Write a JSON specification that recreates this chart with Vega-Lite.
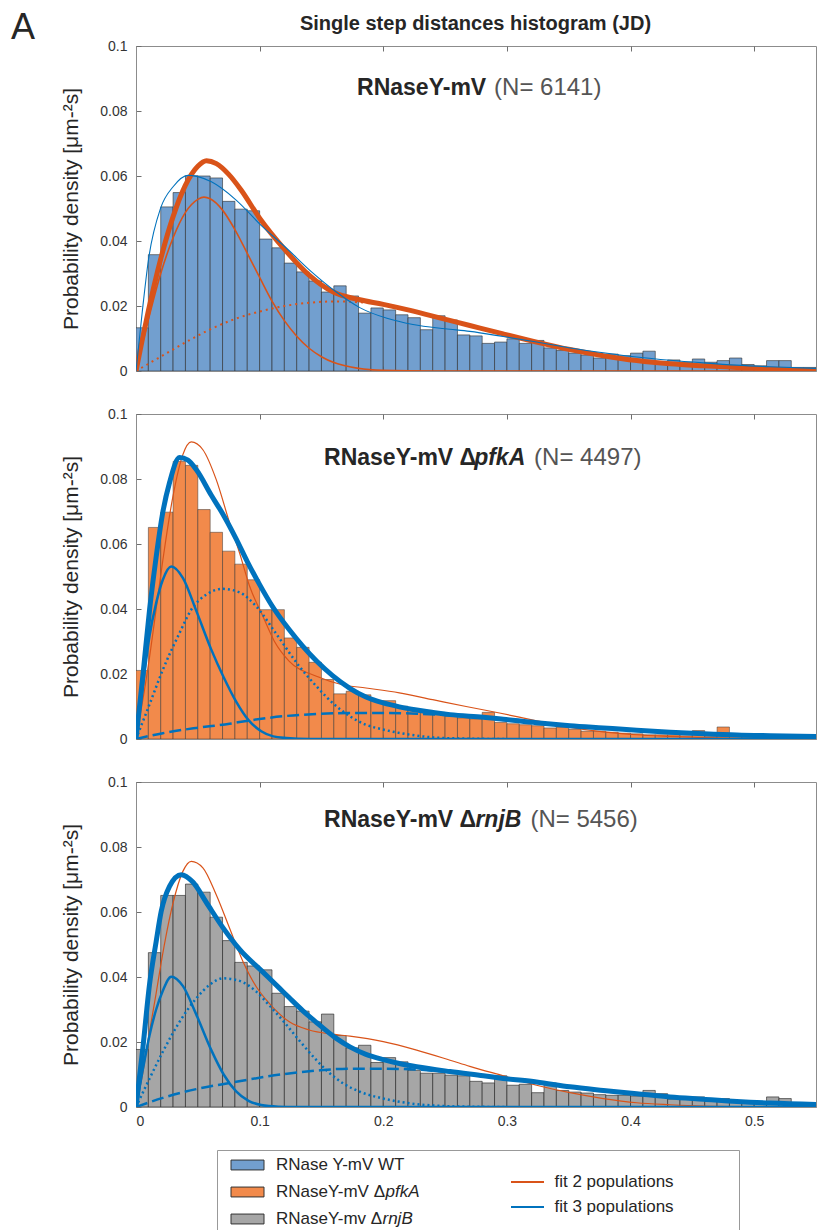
{
"$schema": "https://vega.github.io/schema/vega-lite/v6.json",
"background": "white",
"padding": {"left": 10, "top": 9, "right": 0, "bottom": 0},
"bounds": "flush",
"spacing": 43,
"title": {"text": "Single step distances histogram (JD)", "fontSize": 20, "fontWeight": "bold", "color": "#262626", "anchor": "middle", "offset": -24, "dx": 62},
"config": {
 "font": "Liberation Sans",
 "view": {"stroke": "#8c8c8c", "strokeWidth": 1},
 "axis": {"grid": false, "domainColor": "#8c8c8c", "tickColor": "#6e6e6e", "labelColor": "#333333", "labelFontSize": 14, "tickSize": -5, "titleFontWeight": "normal", "titleColor": "#262626"}
},
"datasets": {
 "bars": [
{"panel":"WT","from":0,"to":0.01,"density":0.0133},{"panel":"WT","from":0.01,"to":0.02,"density":0.0358},{"panel":"WT","from":0.02,"to":0.03,"density":0.0505},{"panel":"WT","from":0.03,"to":0.04,"density":0.0549},{"panel":"WT","from":0.04,"to":0.05,"density":0.0601},{"panel":"WT","from":0.05,"to":0.06,"density":0.0600},{"panel":"WT","from":0.06,"to":0.07,"density":0.0594},{"panel":"WT","from":0.07,"to":0.08,"density":0.0522},{"panel":"WT","from":0.08,"to":0.09,"density":0.0498},{"panel":"WT","from":0.09,"to":0.10,"density":0.0493},
{"panel":"WT","from":0.10,"to":0.11,"density":0.0406},{"panel":"WT","from":0.11,"to":0.12,"density":0.0379},{"panel":"WT","from":0.12,"to":0.13,"density":0.0332},{"panel":"WT","from":0.13,"to":0.14,"density":0.0305},{"panel":"WT","from":0.14,"to":0.15,"density":0.0277},{"panel":"WT","from":0.15,"to":0.16,"density":0.0243},{"panel":"WT","from":0.16,"to":0.17,"density":0.0262},{"panel":"WT","from":0.17,"to":0.18,"density":0.0231},{"panel":"WT","from":0.18,"to":0.19,"density":0.0178},{"panel":"WT","from":0.19,"to":0.20,"density":0.0194},
{"panel":"WT","from":0.20,"to":0.21,"density":0.0188},{"panel":"WT","from":0.21,"to":0.22,"density":0.0173},{"panel":"WT","from":0.22,"to":0.23,"density":0.0164},{"panel":"WT","from":0.23,"to":0.24,"density":0.0127},{"panel":"WT","from":0.24,"to":0.25,"density":0.0170},{"panel":"WT","from":0.25,"to":0.26,"density":0.0157},{"panel":"WT","from":0.26,"to":0.27,"density":0.0111},{"panel":"WT","from":0.27,"to":0.28,"density":0.0108},{"panel":"WT","from":0.28,"to":0.29,"density":0.0085},{"panel":"WT","from":0.29,"to":0.30,"density":0.0089},
{"panel":"WT","from":0.30,"to":0.31,"density":0.0099},{"panel":"WT","from":0.31,"to":0.32,"density":0.0085},{"panel":"WT","from":0.32,"to":0.33,"density":0.0094},{"panel":"WT","from":0.33,"to":0.34,"density":0.0071},{"panel":"WT","from":0.34,"to":0.35,"density":0.0063},{"panel":"WT","from":0.35,"to":0.36,"density":0.0055},{"panel":"WT","from":0.36,"to":0.37,"density":0.0049},{"panel":"WT","from":0.37,"to":0.38,"density":0.0040},{"panel":"WT","from":0.38,"to":0.39,"density":0.0052},{"panel":"WT","from":0.39,"to":0.40,"density":0.0047},
{"panel":"WT","from":0.40,"to":0.41,"density":0.0055},{"panel":"WT","from":0.41,"to":0.42,"density":0.0061},{"panel":"WT","from":0.42,"to":0.43,"density":0.0020},{"panel":"WT","from":0.43,"to":0.44,"density":0.0034},{"panel":"WT","from":0.44,"to":0.45,"density":0.0027},{"panel":"WT","from":0.45,"to":0.46,"density":0.0037},{"panel":"WT","from":0.46,"to":0.47,"density":0.0027},{"panel":"WT","from":0.47,"to":0.48,"density":0.0032},{"panel":"WT","from":0.48,"to":0.49,"density":0.0040},{"panel":"WT","from":0.49,"to":0.50,"density":0.0020},
{"panel":"WT","from":0.50,"to":0.51,"density":0.0016},{"panel":"WT","from":0.51,"to":0.52,"density":0.0032},{"panel":"WT","from":0.52,"to":0.53,"density":0.0032},{"panel":"WT","from":0.53,"to":0.54,"density":0.0011},{"panel":"WT","from":0.54,"to":0.55,"density":0.0011},
{"panel":"pfkA","from":0,"to":0.01,"density":0.0211},{"panel":"pfkA","from":0.01,"to":0.02,"density":0.0651},{"panel":"pfkA","from":0.02,"to":0.03,"density":0.0698},{"panel":"pfkA","from":0.03,"to":0.04,"density":0.0854},{"panel":"pfkA","from":0.04,"to":0.05,"density":0.0842},{"panel":"pfkA","from":0.05,"to":0.06,"density":0.0706},{"panel":"pfkA","from":0.06,"to":0.07,"density":0.0636},{"panel":"pfkA","from":0.07,"to":0.08,"density":0.0578},{"panel":"pfkA","from":0.08,"to":0.09,"density":0.0538},{"panel":"pfkA","from":0.09,"to":0.10,"density":0.0490},
{"panel":"pfkA","from":0.10,"to":0.11,"density":0.0398},{"panel":"pfkA","from":0.11,"to":0.12,"density":0.0398},{"panel":"pfkA","from":0.12,"to":0.13,"density":0.0311},{"panel":"pfkA","from":0.13,"to":0.14,"density":0.0282},{"panel":"pfkA","from":0.14,"to":0.15,"density":0.0236},{"panel":"pfkA","from":0.15,"to":0.16,"density":0.0183},{"panel":"pfkA","from":0.16,"to":0.17,"density":0.0139},{"panel":"pfkA","from":0.17,"to":0.18,"density":0.0147},{"panel":"pfkA","from":0.18,"to":0.19,"density":0.0136},{"panel":"pfkA","from":0.19,"to":0.20,"density":0.0118},
{"panel":"pfkA","from":0.20,"to":0.21,"density":0.0118},{"panel":"pfkA","from":0.21,"to":0.22,"density":0.0101},{"panel":"pfkA","from":0.22,"to":0.23,"density":0.0092},{"panel":"pfkA","from":0.23,"to":0.24,"density":0.0088},{"panel":"pfkA","from":0.24,"to":0.25,"density":0.0082},{"panel":"pfkA","from":0.25,"to":0.26,"density":0.0070},{"panel":"pfkA","from":0.26,"to":0.27,"density":0.0065},{"panel":"pfkA","from":0.27,"to":0.28,"density":0.0062},{"panel":"pfkA","from":0.28,"to":0.29,"density":0.0082},{"panel":"pfkA","from":0.29,"to":0.30,"density":0.0051},
{"panel":"pfkA","from":0.30,"to":0.31,"density":0.0047},{"panel":"pfkA","from":0.31,"to":0.32,"density":0.0044},{"panel":"pfkA","from":0.32,"to":0.33,"density":0.0041},{"panel":"pfkA","from":0.33,"to":0.34,"density":0.0034},{"panel":"pfkA","from":0.34,"to":0.35,"density":0.0037},{"panel":"pfkA","from":0.35,"to":0.36,"density":0.0030},{"panel":"pfkA","from":0.36,"to":0.37,"density":0.0024},{"panel":"pfkA","from":0.37,"to":0.38,"density":0.0024},{"panel":"pfkA","from":0.38,"to":0.39,"density":0.0021},{"panel":"pfkA","from":0.39,"to":0.40,"density":0.0018},
{"panel":"pfkA","from":0.40,"to":0.41,"density":0.0016},{"panel":"pfkA","from":0.41,"to":0.42,"density":0.0013},{"panel":"pfkA","from":0.42,"to":0.43,"density":0.0013},{"panel":"pfkA","from":0.43,"to":0.44,"density":0.0013},{"panel":"pfkA","from":0.44,"to":0.45,"density":0.0010},{"panel":"pfkA","from":0.45,"to":0.46,"density":0.0026},{"panel":"pfkA","from":0.46,"to":0.47,"density":0.0010},{"panel":"pfkA","from":0.47,"to":0.48,"density":0.0037},{"panel":"pfkA","from":0.48,"to":0.49,"density":0.0008},{"panel":"pfkA","from":0.49,"to":0.50,"density":0.0008},
{"panel":"pfkA","from":0.50,"to":0.51,"density":0.0006},{"panel":"pfkA","from":0.51,"to":0.52,"density":0.0005},{"panel":"pfkA","from":0.52,"to":0.53,"density":0.0005},{"panel":"pfkA","from":0.53,"to":0.54,"density":0.0004},{"panel":"pfkA","from":0.54,"to":0.55,"density":0.0004},
{"panel":"rnjB","from":0,"to":0.01,"density":0.0177},{"panel":"rnjB","from":0.01,"to":0.02,"density":0.0475},{"panel":"rnjB","from":0.02,"to":0.03,"density":0.0651},{"panel":"rnjB","from":0.03,"to":0.04,"density":0.0651},{"panel":"rnjB","from":0.04,"to":0.05,"density":0.0686},{"panel":"rnjB","from":0.05,"to":0.06,"density":0.0661},{"panel":"rnjB","from":0.06,"to":0.07,"density":0.0584},{"panel":"rnjB","from":0.07,"to":0.08,"density":0.0512},{"panel":"rnjB","from":0.08,"to":0.09,"density":0.0445},{"panel":"rnjB","from":0.09,"to":0.10,"density":0.0434},
{"panel":"rnjB","from":0.10,"to":0.11,"density":0.0422},{"panel":"rnjB","from":0.11,"to":0.12,"density":0.0350},{"panel":"rnjB","from":0.12,"to":0.13,"density":0.0309},{"panel":"rnjB","from":0.13,"to":0.14,"density":0.0295},{"panel":"rnjB","from":0.14,"to":0.15,"density":0.0262},{"panel":"rnjB","from":0.15,"to":0.16,"density":0.0286},{"panel":"rnjB","from":0.16,"to":0.17,"density":0.0220},{"panel":"rnjB","from":0.17,"to":0.18,"density":0.0182},{"panel":"rnjB","from":0.18,"to":0.19,"density":0.0190},{"panel":"rnjB","from":0.19,"to":0.20,"density":0.0137},
{"panel":"rnjB","from":0.20,"to":0.21,"density":0.0152},{"panel":"rnjB","from":0.21,"to":0.22,"density":0.0139},{"panel":"rnjB","from":0.22,"to":0.23,"density":0.0113},{"panel":"rnjB","from":0.23,"to":0.24,"density":0.0104},{"panel":"rnjB","from":0.24,"to":0.25,"density":0.0104},{"panel":"rnjB","from":0.25,"to":0.26,"density":0.0098},{"panel":"rnjB","from":0.26,"to":0.27,"density":0.0096},{"panel":"rnjB","from":0.27,"to":0.28,"density":0.0079},{"panel":"rnjB","from":0.28,"to":0.29,"density":0.0074},{"panel":"rnjB","from":0.29,"to":0.30,"density":0.0096},
{"panel":"rnjB","from":0.30,"to":0.31,"density":0.0067},{"panel":"rnjB","from":0.31,"to":0.32,"density":0.0070},{"panel":"rnjB","from":0.32,"to":0.33,"density":0.0044},{"panel":"rnjB","from":0.33,"to":0.34,"density":0.0074},{"panel":"rnjB","from":0.34,"to":0.35,"density":0.0051},{"panel":"rnjB","from":0.35,"to":0.36,"density":0.0046},{"panel":"rnjB","from":0.36,"to":0.37,"density":0.0043},{"panel":"rnjB","from":0.37,"to":0.38,"density":0.0038},{"panel":"rnjB","from":0.38,"to":0.39,"density":0.0036},{"panel":"rnjB","from":0.39,"to":0.40,"density":0.0036},
{"panel":"rnjB","from":0.40,"to":0.41,"density":0.0034},{"panel":"rnjB","from":0.41,"to":0.42,"density":0.0051},{"panel":"rnjB","from":0.42,"to":0.43,"density":0.0041},{"panel":"rnjB","from":0.43,"to":0.44,"density":0.0024},{"panel":"rnjB","from":0.44,"to":0.45,"density":0.0031},{"panel":"rnjB","from":0.45,"to":0.46,"density":0.0031},{"panel":"rnjB","from":0.46,"to":0.47,"density":0.0021},{"panel":"rnjB","from":0.47,"to":0.48,"density":0.0026},{"panel":"rnjB","from":0.48,"to":0.49,"density":0.0017},{"panel":"rnjB","from":0.49,"to":0.50,"density":0.0015},
{"panel":"rnjB","from":0.50,"to":0.51,"density":0.0015},{"panel":"rnjB","from":0.51,"to":0.52,"density":0.0031},{"panel":"rnjB","from":0.52,"to":0.53,"density":0.0026},{"panel":"rnjB","from":0.53,"to":0.54,"density":0.0010},{"panel":"rnjB","from":0.54,"to":0.55,"density":0.0010}
 ],
 "curves": [
{"panel":"WT","curve":"fit2 total","x":0,"y":0},{"panel":"WT","curve":"fit2 total","x":0.005,"y":0.0095},{"panel":"WT","curve":"fit2 total","x":0.01,"y":0.0185},{"panel":"WT","curve":"fit2 total","x":0.02,"y":0.0345},{"panel":"WT","curve":"fit2 total","x":0.03,"y":0.0475},{"panel":"WT","curve":"fit2 total","x":0.04,"y":0.0572},{"panel":"WT","curve":"fit2 total","x":0.05,"y":0.0630},{"panel":"WT","curve":"fit2 total","x":0.057,"y":0.0647},{"panel":"WT","curve":"fit2 total","x":0.065,"y":0.0638},{"panel":"WT","curve":"fit2 total","x":0.075,"y":0.0605},{"panel":"WT","curve":"fit2 total","x":0.085,"y":0.0557},{"panel":"WT","curve":"fit2 total","x":0.10,"y":0.0470},{"panel":"WT","curve":"fit2 total","x":0.12,"y":0.0375},{"panel":"WT","curve":"fit2 total","x":0.14,"y":0.0295},{"panel":"WT","curve":"fit2 total","x":0.16,"y":0.0242},{"panel":"WT","curve":"fit2 total","x":0.18,"y":0.0220},{"panel":"WT","curve":"fit2 total","x":0.20,"y":0.0205},{"panel":"WT","curve":"fit2 total","x":0.22,"y":0.0188},{"panel":"WT","curve":"fit2 total","x":0.24,"y":0.0169},{"panel":"WT","curve":"fit2 total","x":0.27,"y":0.0140},{"panel":"WT","curve":"fit2 total","x":0.297,"y":0.0114},{"panel":"WT","curve":"fit2 total","x":0.324,"y":0.0089},{"panel":"WT","curve":"fit2 total","x":0.351,"y":0.0066},{"panel":"WT","curve":"fit2 total","x":0.378,"y":0.0047},{"panel":"WT","curve":"fit2 total","x":0.405,"y":0.0032},{"panel":"WT","curve":"fit2 total","x":0.432,"y":0.0022},{"panel":"WT","curve":"fit2 total","x":0.459,"y":0.0016},{"panel":"WT","curve":"fit2 total","x":0.486,"y":0.0011},{"panel":"WT","curve":"fit2 total","x":0.52,"y":0.0005},{"panel":"WT","curve":"fit2 total","x":0.55,"y":0.0002},
{"panel":"WT","curve":"fit2 pop1","x":0,"y":0},{"panel":"WT","curve":"fit2 pop1","x":0.01,"y":0.0158},{"panel":"WT","curve":"fit2 pop1","x":0.02,"y":0.0300},{"panel":"WT","curve":"fit2 pop1","x":0.03,"y":0.0410},{"panel":"WT","curve":"fit2 pop1","x":0.04,"y":0.0488},{"panel":"WT","curve":"fit2 pop1","x":0.05,"y":0.0528},{"panel":"WT","curve":"fit2 pop1","x":0.055,"y":0.0535},{"panel":"WT","curve":"fit2 pop1","x":0.06,"y":0.0530},{"panel":"WT","curve":"fit2 pop1","x":0.07,"y":0.0495},{"panel":"WT","curve":"fit2 pop1","x":0.08,"y":0.0435},{"panel":"WT","curve":"fit2 pop1","x":0.09,"y":0.0362},{"panel":"WT","curve":"fit2 pop1","x":0.10,"y":0.0288},{"panel":"WT","curve":"fit2 pop1","x":0.11,"y":0.0215},{"panel":"WT","curve":"fit2 pop1","x":0.12,"y":0.0155},{"panel":"WT","curve":"fit2 pop1","x":0.13,"y":0.0107},{"panel":"WT","curve":"fit2 pop1","x":0.14,"y":0.0070},{"panel":"WT","curve":"fit2 pop1","x":0.15,"y":0.0044},{"panel":"WT","curve":"fit2 pop1","x":0.16,"y":0.0026},{"panel":"WT","curve":"fit2 pop1","x":0.18,"y":0.0008},{"panel":"WT","curve":"fit2 pop1","x":0.20,"y":0.0002},{"panel":"WT","curve":"fit2 pop1","x":0.24,"y":0},{"panel":"WT","curve":"fit2 pop1","x":0.55,"y":0},
{"panel":"WT","curve":"fit2 pop2","x":0,"y":0},{"panel":"WT","curve":"fit2 pop2","x":0.02,"y":0.0044},{"panel":"WT","curve":"fit2 pop2","x":0.04,"y":0.0088},{"panel":"WT","curve":"fit2 pop2","x":0.06,"y":0.0128},{"panel":"WT","curve":"fit2 pop2","x":0.08,"y":0.0160},{"panel":"WT","curve":"fit2 pop2","x":0.10,"y":0.0183},{"panel":"WT","curve":"fit2 pop2","x":0.12,"y":0.0200},{"panel":"WT","curve":"fit2 pop2","x":0.14,"y":0.0210},{"panel":"WT","curve":"fit2 pop2","x":0.16,"y":0.0214},{"panel":"WT","curve":"fit2 pop2","x":0.18,"y":0.0212},{"panel":"WT","curve":"fit2 pop2","x":0.20,"y":0.0203},{"panel":"WT","curve":"fit2 pop2","x":0.22,"y":0.0187},{"panel":"WT","curve":"fit2 pop2","x":0.24,"y":0.0169},{"panel":"WT","curve":"fit2 pop2","x":0.27,"y":0.0140},{"panel":"WT","curve":"fit2 pop2","x":0.297,"y":0.0114},{"panel":"WT","curve":"fit2 pop2","x":0.324,"y":0.0089},{"panel":"WT","curve":"fit2 pop2","x":0.351,"y":0.0066},{"panel":"WT","curve":"fit2 pop2","x":0.378,"y":0.0047},{"panel":"WT","curve":"fit2 pop2","x":0.405,"y":0.0032},{"panel":"WT","curve":"fit2 pop2","x":0.432,"y":0.0022},{"panel":"WT","curve":"fit2 pop2","x":0.459,"y":0.0016},{"panel":"WT","curve":"fit2 pop2","x":0.486,"y":0.0011},{"panel":"WT","curve":"fit2 pop2","x":0.52,"y":0.0005},{"panel":"WT","curve":"fit2 pop2","x":0.55,"y":0.0002},
{"panel":"WT","curve":"fit3 total","x":0,"y":0},{"panel":"WT","curve":"fit3 total","x":0.005,"y":0.0180},{"panel":"WT","curve":"fit3 total","x":0.01,"y":0.0340},{"panel":"WT","curve":"fit3 total","x":0.02,"y":0.0502},{"panel":"WT","curve":"fit3 total","x":0.03,"y":0.0567},{"panel":"WT","curve":"fit3 total","x":0.042,"y":0.0602},{"panel":"WT","curve":"fit3 total","x":0.05,"y":0.0598},{"panel":"WT","curve":"fit3 total","x":0.061,"y":0.0582},{"panel":"WT","curve":"fit3 total","x":0.081,"y":0.0526},{"panel":"WT","curve":"fit3 total","x":0.101,"y":0.0449},{"panel":"WT","curve":"fit3 total","x":0.122,"y":0.0377},{"panel":"WT","curve":"fit3 total","x":0.142,"y":0.0305},{"panel":"WT","curve":"fit3 total","x":0.162,"y":0.0243},{"panel":"WT","curve":"fit3 total","x":0.181,"y":0.0195},{"panel":"WT","curve":"fit3 total","x":0.203,"y":0.0162},{"panel":"WT","curve":"fit3 total","x":0.224,"y":0.0143},{"panel":"WT","curve":"fit3 total","x":0.25,"y":0.0130},{"panel":"WT","curve":"fit3 total","x":0.27,"y":0.0122},{"panel":"WT","curve":"fit3 total","x":0.297,"y":0.0106},{"panel":"WT","curve":"fit3 total","x":0.324,"y":0.0089},{"panel":"WT","curve":"fit3 total","x":0.351,"y":0.0071},{"panel":"WT","curve":"fit3 total","x":0.378,"y":0.0056},{"panel":"WT","curve":"fit3 total","x":0.405,"y":0.0043},{"panel":"WT","curve":"fit3 total","x":0.432,"y":0.0033},{"panel":"WT","curve":"fit3 total","x":0.459,"y":0.0025},{"panel":"WT","curve":"fit3 total","x":0.486,"y":0.0018},{"panel":"WT","curve":"fit3 total","x":0.513,"y":0.0013},{"panel":"WT","curve":"fit3 total","x":0.55,"y":0.0008},
{"panel":"pfkA","curve":"fit3 total","x":0,"y":0},{"panel":"pfkA","curve":"fit3 total","x":0.0055,"y":0.0193},{"panel":"pfkA","curve":"fit3 total","x":0.0109,"y":0.0395},{"panel":"pfkA","curve":"fit3 total","x":0.0163,"y":0.0560},{"panel":"pfkA","curve":"fit3 total","x":0.0217,"y":0.0698},{"panel":"pfkA","curve":"fit3 total","x":0.0272,"y":0.0790},{"panel":"pfkA","curve":"fit3 total","x":0.0352,"y":0.0866},{"panel":"pfkA","curve":"fit3 total","x":0.042,"y":0.0858},{"panel":"pfkA","curve":"fit3 total","x":0.0487,"y":0.0829},{"panel":"pfkA","curve":"fit3 total","x":0.0609,"y":0.0750},{"panel":"pfkA","curve":"fit3 total","x":0.0709,"y":0.0688},{"panel":"pfkA","curve":"fit3 total","x":0.081,"y":0.0616},{"panel":"pfkA","curve":"fit3 total","x":0.09,"y":0.0546},{"panel":"pfkA","curve":"fit3 total","x":0.10,"y":0.0475},{"panel":"pfkA","curve":"fit3 total","x":0.11,"y":0.0410},{"panel":"pfkA","curve":"fit3 total","x":0.124,"y":0.0336},{"panel":"pfkA","curve":"fit3 total","x":0.135,"y":0.0285},{"panel":"pfkA","curve":"fit3 total","x":0.146,"y":0.0240},{"panel":"pfkA","curve":"fit3 total","x":0.159,"y":0.0195},{"panel":"pfkA","curve":"fit3 total","x":0.173,"y":0.0156},{"panel":"pfkA","curve":"fit3 total","x":0.186,"y":0.0129},{"panel":"pfkA","curve":"fit3 total","x":0.20,"y":0.0111},{"panel":"pfkA","curve":"fit3 total","x":0.213,"y":0.0099},{"panel":"pfkA","curve":"fit3 total","x":0.227,"y":0.0089},{"panel":"pfkA","curve":"fit3 total","x":0.254,"y":0.0075},{"panel":"pfkA","curve":"fit3 total","x":0.281,"y":0.0067},{"panel":"pfkA","curve":"fit3 total","x":0.297,"y":0.0061},{"panel":"pfkA","curve":"fit3 total","x":0.324,"y":0.0050},{"panel":"pfkA","curve":"fit3 total","x":0.351,"y":0.0041},{"panel":"pfkA","curve":"fit3 total","x":0.378,"y":0.0034},{"panel":"pfkA","curve":"fit3 total","x":0.405,"y":0.0027},{"panel":"pfkA","curve":"fit3 total","x":0.432,"y":0.0021},{"panel":"pfkA","curve":"fit3 total","x":0.459,"y":0.0016},{"panel":"pfkA","curve":"fit3 total","x":0.486,"y":0.0012},{"panel":"pfkA","curve":"fit3 total","x":0.513,"y":0.0010},{"panel":"pfkA","curve":"fit3 total","x":0.55,"y":0.0008},
{"panel":"pfkA","curve":"fit3 pop1","x":0,"y":0},{"panel":"pfkA","curve":"fit3 pop1","x":0.0055,"y":0.0162},{"panel":"pfkA","curve":"fit3 pop1","x":0.0109,"y":0.0316},{"panel":"pfkA","curve":"fit3 pop1","x":0.0163,"y":0.0418},{"panel":"pfkA","curve":"fit3 pop1","x":0.0217,"y":0.0490},{"panel":"pfkA","curve":"fit3 pop1","x":0.0285,"y":0.0531},{"panel":"pfkA","curve":"fit3 pop1","x":0.038,"y":0.0495},{"panel":"pfkA","curve":"fit3 pop1","x":0.0487,"y":0.0395},{"panel":"pfkA","curve":"fit3 pop1","x":0.0609,"y":0.0275},{"panel":"pfkA","curve":"fit3 pop1","x":0.0709,"y":0.0190},{"panel":"pfkA","curve":"fit3 pop1","x":0.081,"y":0.0115},{"panel":"pfkA","curve":"fit3 pop1","x":0.091,"y":0.0058},{"panel":"pfkA","curve":"fit3 pop1","x":0.1013,"y":0.0024},{"panel":"pfkA","curve":"fit3 pop1","x":0.111,"y":0.0008},{"panel":"pfkA","curve":"fit3 pop1","x":0.1216,"y":0.0003},{"panel":"pfkA","curve":"fit3 pop1","x":0.14,"y":0},{"panel":"pfkA","curve":"fit3 pop1","x":0.55,"y":0},
{"panel":"pfkA","curve":"fit3 pop2","x":0,"y":0},{"panel":"pfkA","curve":"fit3 pop2","x":0.0109,"y":0.0106},{"panel":"pfkA","curve":"fit3 pop2","x":0.0217,"y":0.0213},{"panel":"pfkA","curve":"fit3 pop2","x":0.0352,"y":0.0326},{"panel":"pfkA","curve":"fit3 pop2","x":0.0447,"y":0.0398},{"panel":"pfkA","curve":"fit3 pop2","x":0.0568,"y":0.0444},{"panel":"pfkA","curve":"fit3 pop2","x":0.0703,"y":0.0462},{"panel":"pfkA","curve":"fit3 pop2","x":0.0838,"y":0.0451},{"panel":"pfkA","curve":"fit3 pop2","x":0.0973,"y":0.0408},{"panel":"pfkA","curve":"fit3 pop2","x":0.113,"y":0.0326},{"panel":"pfkA","curve":"fit3 pop2","x":0.132,"y":0.0224},{"panel":"pfkA","curve":"fit3 pop2","x":0.146,"y":0.0162},{"panel":"pfkA","curve":"fit3 pop2","x":0.159,"y":0.0111},{"panel":"pfkA","curve":"fit3 pop2","x":0.173,"y":0.0070},{"panel":"pfkA","curve":"fit3 pop2","x":0.186,"y":0.0044},{"panel":"pfkA","curve":"fit3 pop2","x":0.20,"y":0.0029},{"panel":"pfkA","curve":"fit3 pop2","x":0.222,"y":0.0013},{"panel":"pfkA","curve":"fit3 pop2","x":0.24,"y":0.0005},{"panel":"pfkA","curve":"fit3 pop2","x":0.27,"y":0.0001},{"panel":"pfkA","curve":"fit3 pop2","x":0.30,"y":0},
{"panel":"pfkA","curve":"fit3 pop3","x":0,"y":0},{"panel":"pfkA","curve":"fit3 pop3","x":0.0217,"y":0.0018},{"panel":"pfkA","curve":"fit3 pop3","x":0.0487,"y":0.0034},{"panel":"pfkA","curve":"fit3 pop3","x":0.0757,"y":0.0047},{"panel":"pfkA","curve":"fit3 pop3","x":0.0919,"y":0.0057},{"panel":"pfkA","curve":"fit3 pop3","x":0.119,"y":0.0070},{"panel":"pfkA","curve":"fit3 pop3","x":0.146,"y":0.0077},{"panel":"pfkA","curve":"fit3 pop3","x":0.173,"y":0.0080},{"panel":"pfkA","curve":"fit3 pop3","x":0.20,"y":0.0080},{"panel":"pfkA","curve":"fit3 pop3","x":0.227,"y":0.0078},{"panel":"pfkA","curve":"fit3 pop3","x":0.254,"y":0.0073},{"panel":"pfkA","curve":"fit3 pop3","x":0.281,"y":0.0065},{"panel":"pfkA","curve":"fit3 pop3","x":0.297,"y":0.0060},{"panel":"pfkA","curve":"fit3 pop3","x":0.324,"y":0.0050},{"panel":"pfkA","curve":"fit3 pop3","x":0.351,"y":0.0041},{"panel":"pfkA","curve":"fit3 pop3","x":0.378,"y":0.0034},{"panel":"pfkA","curve":"fit3 pop3","x":0.405,"y":0.0027},{"panel":"pfkA","curve":"fit3 pop3","x":0.432,"y":0.0021},{"panel":"pfkA","curve":"fit3 pop3","x":0.459,"y":0.0016},{"panel":"pfkA","curve":"fit3 pop3","x":0.486,"y":0.0012},{"panel":"pfkA","curve":"fit3 pop3","x":0.513,"y":0.0010},{"panel":"pfkA","curve":"fit3 pop3","x":0.55,"y":0.0008},
{"panel":"pfkA","curve":"fit2 total","x":0,"y":0},{"panel":"pfkA","curve":"fit2 total","x":0.0055,"y":0.0120},{"panel":"pfkA","curve":"fit2 total","x":0.0109,"y":0.0250},{"panel":"pfkA","curve":"fit2 total","x":0.0163,"y":0.0400},{"panel":"pfkA","curve":"fit2 total","x":0.0217,"y":0.0550},{"panel":"pfkA","curve":"fit2 total","x":0.0298,"y":0.0745},{"panel":"pfkA","curve":"fit2 total","x":0.0379,"y":0.0875},{"panel":"pfkA","curve":"fit2 total","x":0.0447,"y":0.0914},{"panel":"pfkA","curve":"fit2 total","x":0.0541,"y":0.0890},{"panel":"pfkA","curve":"fit2 total","x":0.0649,"y":0.0798},{"panel":"pfkA","curve":"fit2 total","x":0.0757,"y":0.0665},{"panel":"pfkA","curve":"fit2 total","x":0.0838,"y":0.0572},{"panel":"pfkA","curve":"fit2 total","x":0.0919,"y":0.0470},{"panel":"pfkA","curve":"fit2 total","x":0.1027,"y":0.0377},{"panel":"pfkA","curve":"fit2 total","x":0.112,"y":0.0300},{"panel":"pfkA","curve":"fit2 total","x":0.124,"y":0.0239},{"panel":"pfkA","curve":"fit2 total","x":0.146,"y":0.0193},{"panel":"pfkA","curve":"fit2 total","x":0.167,"y":0.0167},{"panel":"pfkA","curve":"fit2 total","x":0.186,"y":0.0157},{"panel":"pfkA","curve":"fit2 total","x":0.213,"y":0.0142},{"panel":"pfkA","curve":"fit2 total","x":0.24,"y":0.0121},{"panel":"pfkA","curve":"fit2 total","x":0.267,"y":0.0100},{"panel":"pfkA","curve":"fit2 total","x":0.294,"y":0.0080},{"panel":"pfkA","curve":"fit2 total","x":0.324,"y":0.0056},{"panel":"pfkA","curve":"fit2 total","x":0.351,"y":0.0036},{"panel":"pfkA","curve":"fit2 total","x":0.378,"y":0.0022},{"panel":"pfkA","curve":"fit2 total","x":0.405,"y":0.0013},{"panel":"pfkA","curve":"fit2 total","x":0.432,"y":0.0008},{"panel":"pfkA","curve":"fit2 total","x":0.46,"y":0.0004},{"panel":"pfkA","curve":"fit2 total","x":0.50,"y":0.0001},{"panel":"pfkA","curve":"fit2 total","x":0.55,"y":0},
{"panel":"rnjB","curve":"fit3 total","x":0,"y":0},{"panel":"rnjB","curve":"fit3 total","x":0.0055,"y":0.0180},{"panel":"rnjB","curve":"fit3 total","x":0.0109,"y":0.0376},{"panel":"rnjB","curve":"fit3 total","x":0.0163,"y":0.0509},{"panel":"rnjB","curve":"fit3 total","x":0.0204,"y":0.0602},{"panel":"rnjB","curve":"fit3 total","x":0.0271,"y":0.0679},{"panel":"rnjB","curve":"fit3 total","x":0.0366,"y":0.0715},{"panel":"rnjB","curve":"fit3 total","x":0.046,"y":0.0692},{"panel":"rnjB","curve":"fit3 total","x":0.0568,"y":0.0630},{"panel":"rnjB","curve":"fit3 total","x":0.0703,"y":0.0552},{"panel":"rnjB","curve":"fit3 total","x":0.0838,"y":0.0485},{"panel":"rnjB","curve":"fit3 total","x":0.1027,"y":0.0415},{"panel":"rnjB","curve":"fit3 total","x":0.1162,"y":0.0365},{"panel":"rnjB","curve":"fit3 total","x":0.124,"y":0.0336},{"panel":"rnjB","curve":"fit3 total","x":0.135,"y":0.0296},{"panel":"rnjB","curve":"fit3 total","x":0.146,"y":0.0260},{"panel":"rnjB","curve":"fit3 total","x":0.162,"y":0.0211},{"panel":"rnjB","curve":"fit3 total","x":0.173,"y":0.0185},{"panel":"rnjB","curve":"fit3 total","x":0.186,"y":0.0162},{"panel":"rnjB","curve":"fit3 total","x":0.20,"y":0.0146},{"panel":"rnjB","curve":"fit3 total","x":0.213,"y":0.0134},{"panel":"rnjB","curve":"fit3 total","x":0.227,"y":0.0124},{"panel":"rnjB","curve":"fit3 total","x":0.254,"y":0.0109},{"panel":"rnjB","curve":"fit3 total","x":0.281,"y":0.0096},{"panel":"rnjB","curve":"fit3 total","x":0.297,"y":0.0088},{"panel":"rnjB","curve":"fit3 total","x":0.324,"y":0.0077},{"panel":"rnjB","curve":"fit3 total","x":0.351,"y":0.0062},{"panel":"rnjB","curve":"fit3 total","x":0.378,"y":0.0051},{"panel":"rnjB","curve":"fit3 total","x":0.405,"y":0.0041},{"panel":"rnjB","curve":"fit3 total","x":0.432,"y":0.0031},{"panel":"rnjB","curve":"fit3 total","x":0.459,"y":0.0024},{"panel":"rnjB","curve":"fit3 total","x":0.486,"y":0.0017},{"panel":"rnjB","curve":"fit3 total","x":0.513,"y":0.0012},{"panel":"rnjB","curve":"fit3 total","x":0.55,"y":0.0008},
{"panel":"rnjB","curve":"fit3 pop1","x":0,"y":0},{"panel":"rnjB","curve":"fit3 pop1","x":0.0055,"y":0.0115},{"panel":"rnjB","curve":"fit3 pop1","x":0.0109,"y":0.0220},{"panel":"rnjB","curve":"fit3 pop1","x":0.0163,"y":0.0300},{"panel":"rnjB","curve":"fit3 pop1","x":0.0217,"y":0.0358},{"panel":"rnjB","curve":"fit3 pop1","x":0.0285,"y":0.0401},{"panel":"rnjB","curve":"fit3 pop1","x":0.038,"y":0.0372},{"panel":"rnjB","curve":"fit3 pop1","x":0.0487,"y":0.0285},{"panel":"rnjB","curve":"fit3 pop1","x":0.0609,"y":0.0175},{"panel":"rnjB","curve":"fit3 pop1","x":0.0709,"y":0.0100},{"panel":"rnjB","curve":"fit3 pop1","x":0.081,"y":0.0048},{"panel":"rnjB","curve":"fit3 pop1","x":0.091,"y":0.0019},{"panel":"rnjB","curve":"fit3 pop1","x":0.1013,"y":0.0006},{"panel":"rnjB","curve":"fit3 pop1","x":0.115,"y":0.0001},{"panel":"rnjB","curve":"fit3 pop1","x":0.13,"y":0},{"panel":"rnjB","curve":"fit3 pop1","x":0.55,"y":0},
{"panel":"rnjB","curve":"fit3 pop2","x":0,"y":0},{"panel":"rnjB","curve":"fit3 pop2","x":0.0109,"y":0.0087},{"panel":"rnjB","curve":"fit3 pop2","x":0.0217,"y":0.0170},{"panel":"rnjB","curve":"fit3 pop2","x":0.0352,"y":0.0262},{"panel":"rnjB","curve":"fit3 pop2","x":0.0487,"y":0.0334},{"panel":"rnjB","curve":"fit3 pop2","x":0.0595,"y":0.0376},{"panel":"rnjB","curve":"fit3 pop2","x":0.0703,"y":0.0396},{"panel":"rnjB","curve":"fit3 pop2","x":0.0838,"y":0.0388},{"panel":"rnjB","curve":"fit3 pop2","x":0.0973,"y":0.0355},{"panel":"rnjB","curve":"fit3 pop2","x":0.108,"y":0.0312},{"panel":"rnjB","curve":"fit3 pop2","x":0.119,"y":0.0265},{"panel":"rnjB","curve":"fit3 pop2","x":0.132,"y":0.0205},{"panel":"rnjB","curve":"fit3 pop2","x":0.146,"y":0.0144},{"panel":"rnjB","curve":"fit3 pop2","x":0.154,"y":0.0113},{"panel":"rnjB","curve":"fit3 pop2","x":0.167,"y":0.0074},{"panel":"rnjB","curve":"fit3 pop2","x":0.181,"y":0.0047},{"panel":"rnjB","curve":"fit3 pop2","x":0.20,"y":0.0026},{"panel":"rnjB","curve":"fit3 pop2","x":0.222,"y":0.0011},{"panel":"rnjB","curve":"fit3 pop2","x":0.243,"y":0.0004},{"panel":"rnjB","curve":"fit3 pop2","x":0.27,"y":0.0001},{"panel":"rnjB","curve":"fit3 pop2","x":0.30,"y":0},
{"panel":"rnjB","curve":"fit3 pop3","x":0,"y":0},{"panel":"rnjB","curve":"fit3 pop3","x":0.0217,"y":0.0028},{"panel":"rnjB","curve":"fit3 pop3","x":0.0487,"y":0.0055},{"panel":"rnjB","curve":"fit3 pop3","x":0.0757,"y":0.0074},{"panel":"rnjB","curve":"fit3 pop3","x":0.0919,"y":0.0085},{"panel":"rnjB","curve":"fit3 pop3","x":0.119,"y":0.0101},{"panel":"rnjB","curve":"fit3 pop3","x":0.146,"y":0.0112},{"panel":"rnjB","curve":"fit3 pop3","x":0.173,"y":0.0118},{"panel":"rnjB","curve":"fit3 pop3","x":0.20,"y":0.0118},{"panel":"rnjB","curve":"fit3 pop3","x":0.227,"y":0.0115},{"panel":"rnjB","curve":"fit3 pop3","x":0.254,"y":0.0107},{"panel":"rnjB","curve":"fit3 pop3","x":0.281,"y":0.0095},{"panel":"rnjB","curve":"fit3 pop3","x":0.297,"y":0.0088},{"panel":"rnjB","curve":"fit3 pop3","x":0.324,"y":0.0077},{"panel":"rnjB","curve":"fit3 pop3","x":0.351,"y":0.0062},{"panel":"rnjB","curve":"fit3 pop3","x":0.378,"y":0.0051},{"panel":"rnjB","curve":"fit3 pop3","x":0.405,"y":0.0041},{"panel":"rnjB","curve":"fit3 pop3","x":0.432,"y":0.0031},{"panel":"rnjB","curve":"fit3 pop3","x":0.459,"y":0.0024},{"panel":"rnjB","curve":"fit3 pop3","x":0.486,"y":0.0017},{"panel":"rnjB","curve":"fit3 pop3","x":0.513,"y":0.0012},{"panel":"rnjB","curve":"fit3 pop3","x":0.55,"y":0.0008},
{"panel":"rnjB","curve":"fit2 total","x":0,"y":0},{"panel":"rnjB","curve":"fit2 total","x":0.0055,"y":0.0105},{"panel":"rnjB","curve":"fit2 total","x":0.0109,"y":0.0231},{"panel":"rnjB","curve":"fit2 total","x":0.0163,"y":0.0350},{"panel":"rnjB","curve":"fit2 total","x":0.0204,"y":0.0445},{"panel":"rnjB","curve":"fit2 total","x":0.0298,"y":0.0625},{"panel":"rnjB","curve":"fit2 total","x":0.0379,"y":0.0725},{"panel":"rnjB","curve":"fit2 total","x":0.0447,"y":0.0756},{"panel":"rnjB","curve":"fit2 total","x":0.0541,"y":0.0736},{"panel":"rnjB","curve":"fit2 total","x":0.0649,"y":0.0653},{"panel":"rnjB","curve":"fit2 total","x":0.0757,"y":0.0550},{"panel":"rnjB","curve":"fit2 total","x":0.0865,"y":0.0448},{"panel":"rnjB","curve":"fit2 total","x":0.0973,"y":0.0370},{"panel":"rnjB","curve":"fit2 total","x":0.108,"y":0.0318},{"panel":"rnjB","curve":"fit2 total","x":0.124,"y":0.0262},{"panel":"rnjB","curve":"fit2 total","x":0.14,"y":0.0237},{"panel":"rnjB","curve":"fit2 total","x":0.159,"y":0.0224},{"panel":"rnjB","curve":"fit2 total","x":0.173,"y":0.0218},{"panel":"rnjB","curve":"fit2 total","x":0.20,"y":0.0201},{"panel":"rnjB","curve":"fit2 total","x":0.227,"y":0.0175},{"panel":"rnjB","curve":"fit2 total","x":0.254,"y":0.0144},{"panel":"rnjB","curve":"fit2 total","x":0.27,"y":0.0125},{"panel":"rnjB","curve":"fit2 total","x":0.297,"y":0.0096},{"panel":"rnjB","curve":"fit2 total","x":0.324,"y":0.0067},{"panel":"rnjB","curve":"fit2 total","x":0.351,"y":0.0044},{"panel":"rnjB","curve":"fit2 total","x":0.378,"y":0.0026},{"panel":"rnjB","curve":"fit2 total","x":0.405,"y":0.0013},{"panel":"rnjB","curve":"fit2 total","x":0.432,"y":0.0007},{"panel":"rnjB","curve":"fit2 total","x":0.459,"y":0.0003},{"panel":"rnjB","curve":"fit2 total","x":0.50,"y":0.0001},{"panel":"rnjB","curve":"fit2 total","x":0.55,"y":0}
 ],
 "legendSeries": [
  {"series":"WT","label":"RNase Y-mV WT","gene":""},
  {"series":"pfkA","label":"RNaseY-mV Δ","gene":"pfkA"},
  {"series":"rnjB","label":"RNaseY-mv Δ","gene":"rnjB"}
 ],
 "legendFits": [
  {"fit":"fit 2 populations"},
  {"fit":"fit 3 populations"}
 ]
},
"vconcat": [
 {
  "width": 680, "height": 325,
  "layer": [
   {"data": {"name": "bars"}, "transform": [{"filter": "datum.panel === 'WT'"}],
    "mark": {"type": "bar", "fill": "#729fcf", "stroke": "#2e2e2e", "strokeWidth": 0.8, "strokeOpacity": 0.75, "clip": true},
    "encoding": {
     "x": {"field": "from", "type": "quantitative", "scale": {"domain": [0, 0.55], "nice": false, "zero": false}, "axis": {"values": [0,0.1,0.2,0.3,0.4,0.5], "labels": false, "title": null}},
     "x2": {"field": "to"},
     "y": {"field": "density", "type": "quantitative", "scale": {"domain": [0, 0.1], "nice": false}, "axis": {"values": [0,0.02,0.04,0.06,0.08,0.1], "format": "~g", "title": "Probability density [μm-²s]", "titleFontSize": 21, "titlePadding": 18, "labelPadding": 14}},
     "y2": {"datum": 0}
    }},
   {"data": {"name": "curves"}, "transform": [{"filter": "datum.panel === 'WT' && datum.curve === 'fit2 pop1'"}],
    "mark": {"type": "line", "color": "#D95319", "strokeWidth": 1.6, "interpolate": "monotone", "clip": true},
    "encoding": {"x": {"field": "x", "type": "quantitative", "axis": null}, "y": {"field": "y", "type": "quantitative"}}},
   {"data": {"name": "curves"}, "transform": [{"filter": "datum.panel === 'WT' && datum.curve === 'fit2 pop2'"}],
    "mark": {"type": "line", "color": "#D95319", "strokeWidth": 2, "strokeDash": [2, 4], "interpolate": "monotone", "clip": true},
    "encoding": {"x": {"field": "x", "type": "quantitative", "axis": null}, "y": {"field": "y", "type": "quantitative"}}},
   {"data": {"name": "curves"}, "transform": [{"filter": "datum.panel === 'WT' && datum.curve === 'fit2 total'"}],
    "mark": {"type": "line", "color": "#D95319", "strokeWidth": 5, "interpolate": "monotone", "clip": true},
    "encoding": {"x": {"field": "x", "type": "quantitative", "axis": null}, "y": {"field": "y", "type": "quantitative"}}},
   {"data": {"name": "curves"}, "transform": [{"filter": "datum.panel === 'WT' && datum.curve === 'fit3 total'"}],
    "mark": {"type": "line", "color": "#0072BD", "strokeWidth": 1.1, "interpolate": "monotone", "clip": true},
    "encoding": {"x": {"field": "x", "type": "quantitative", "axis": null}, "y": {"field": "y", "type": "quantitative"}}},
   {"data": {"values": [{}]},
    "mark": {"type": "text", "text": "RNaseY-mV", "fontSize": 23, "fontWeight": "bold", "align": "left", "baseline": "alphabetic", "color": "#262626"},
    "encoding": {"x": {"datum": 0.1788, "type": "quantitative", "axis": null}, "y": {"datum": 0.085, "type": "quantitative"}}},
   {"data": {"values": [{}]},
    "mark": {"type": "text", "text": "(N= 6141)", "fontSize": 24, "align": "left", "baseline": "alphabetic", "color": "#555555"},
    "encoding": {"x": {"datum": 0.2896, "type": "quantitative", "axis": {"orient": "top", "values": [0,0.1,0.2,0.3,0.4,0.5], "labels": false, "domain": false, "title": null}}, "y": {"datum": 0.085, "type": "quantitative"}}},
   {"data": {"values": [{}]},
    "mark": {"type": "text", "text": "A", "fontSize": 36, "align": "left", "baseline": "alphabetic", "dx": -125, "dy": -7, "color": "#262626"},
    "encoding": {"x": {"datum": 0, "type": "quantitative", "axis": null}, "y": {"datum": 0.1, "type": "quantitative"}}}
  ],
  "resolve": {"axis": {"x": "independent"}}
 },
 {
  "width": 680, "height": 325,
  "layer": [
   {"data": {"name": "bars"}, "transform": [{"filter": "datum.panel === 'pfkA'"}],
    "mark": {"type": "bar", "fill": "#f28a4b", "stroke": "#2e2e2e", "strokeWidth": 0.8, "strokeOpacity": 0.6, "clip": true},
    "encoding": {
     "x": {"field": "from", "type": "quantitative", "scale": {"domain": [0, 0.55], "nice": false, "zero": false}, "axis": {"values": [0,0.1,0.2,0.3,0.4,0.5], "labels": false, "title": null}},
     "x2": {"field": "to"},
     "y": {"field": "density", "type": "quantitative", "scale": {"domain": [0, 0.1], "nice": false}, "axis": {"values": [0,0.02,0.04,0.06,0.08,0.1], "format": "~g", "title": "Probability density [μm-²s]", "titleFontSize": 21, "titlePadding": 18, "labelPadding": 14}},
     "y2": {"datum": 0}
    }},
   {"data": {"name": "curves"}, "transform": [{"filter": "datum.panel === 'pfkA' && datum.curve === 'fit2 total'"}],
    "mark": {"type": "line", "color": "#D95319", "strokeWidth": 1.2, "interpolate": "monotone", "clip": true},
    "encoding": {"x": {"field": "x", "type": "quantitative", "axis": null}, "y": {"field": "y", "type": "quantitative"}}},
   {"data": {"name": "curves"}, "transform": [{"filter": "datum.panel === 'pfkA' && datum.curve === 'fit3 pop3'"}],
    "mark": {"type": "line", "color": "#0072BD", "strokeWidth": 2.5, "strokeDash": [12, 5], "interpolate": "monotone", "clip": true},
    "encoding": {"x": {"field": "x", "type": "quantitative", "axis": null}, "y": {"field": "y", "type": "quantitative"}}},
   {"data": {"name": "curves"}, "transform": [{"filter": "datum.panel === 'pfkA' && datum.curve === 'fit3 pop2'"}],
    "mark": {"type": "line", "color": "#0072BD", "strokeWidth": 2.5, "strokeDash": [2, 3], "interpolate": "monotone", "clip": true},
    "encoding": {"x": {"field": "x", "type": "quantitative", "axis": null}, "y": {"field": "y", "type": "quantitative"}}},
   {"data": {"name": "curves"}, "transform": [{"filter": "datum.panel === 'pfkA' && datum.curve === 'fit3 pop1'"}],
    "mark": {"type": "line", "color": "#0072BD", "strokeWidth": 2.5, "interpolate": "monotone", "clip": true},
    "encoding": {"x": {"field": "x", "type": "quantitative", "axis": null}, "y": {"field": "y", "type": "quantitative"}}},
   {"data": {"name": "curves"}, "transform": [{"filter": "datum.panel === 'pfkA' && datum.curve === 'fit3 total'"}],
    "mark": {"type": "line", "color": "#0072BD", "strokeWidth": 5, "interpolate": "monotone", "clip": true},
    "encoding": {"x": {"field": "x", "type": "quantitative", "axis": null}, "y": {"field": "y", "type": "quantitative"}}},
   {"data": {"values": [{}]},
    "mark": {"type": "text", "text": "RNaseY-mV Δ", "fontSize": 23, "fontWeight": "bold", "align": "left", "baseline": "alphabetic", "color": "#262626"},
    "encoding": {"x": {"datum": 0.1521, "type": "quantitative", "axis": null}, "y": {"datum": 0.0843, "type": "quantitative"}}},
   {"data": {"values": [{}]},
    "mark": {"type": "text", "text": "pfkA", "fontSize": 23, "fontWeight": "bold", "fontStyle": "italic", "align": "left", "baseline": "alphabetic", "color": "#262626"},
    "encoding": {"x": {"datum": 0.2735, "type": "quantitative", "axis": null}, "y": {"datum": 0.0843, "type": "quantitative"}}},
   {"data": {"values": [{}]},
    "mark": {"type": "text", "text": "(N= 4497)", "fontSize": 24, "align": "left", "baseline": "alphabetic", "color": "#555555"},
    "encoding": {"x": {"datum": 0.322, "type": "quantitative", "axis": {"orient": "top", "values": [0,0.1,0.2,0.3,0.4,0.5], "labels": false, "domain": false, "title": null}}, "y": {"datum": 0.0843, "type": "quantitative"}}}
  ],
  "resolve": {"axis": {"x": "independent"}}
 },
 {
  "width": 680, "height": 325,
  "layer": [
   {"data": {"name": "bars"}, "transform": [{"filter": "datum.panel === 'rnjB'"}],
    "mark": {"type": "bar", "fill": "#a6a6a6", "stroke": "#1e1e1e", "strokeWidth": 0.8, "strokeOpacity": 0.75, "clip": true},
    "encoding": {
     "x": {"field": "from", "type": "quantitative", "scale": {"domain": [0, 0.55], "nice": false, "zero": false}, "axis": {"values": [0,0.1,0.2,0.3,0.4,0.5], "format": "~g", "title": null, "labelPadding": 12}},
     "x2": {"field": "to"},
     "y": {"field": "density", "type": "quantitative", "scale": {"domain": [0, 0.1], "nice": false}, "axis": {"values": [0,0.02,0.04,0.06,0.08,0.1], "format": "~g", "title": "Probability density [μm-²s]", "titleFontSize": 21, "titlePadding": 18, "labelPadding": 14}},
     "y2": {"datum": 0}
    }},
   {"data": {"name": "curves"}, "transform": [{"filter": "datum.panel === 'rnjB' && datum.curve === 'fit2 total'"}],
    "mark": {"type": "line", "color": "#D95319", "strokeWidth": 1.2, "interpolate": "monotone", "clip": true},
    "encoding": {"x": {"field": "x", "type": "quantitative", "axis": null}, "y": {"field": "y", "type": "quantitative"}}},
   {"data": {"name": "curves"}, "transform": [{"filter": "datum.panel === 'rnjB' && datum.curve === 'fit3 pop3'"}],
    "mark": {"type": "line", "color": "#0072BD", "strokeWidth": 2.5, "strokeDash": [12, 5], "interpolate": "monotone", "clip": true},
    "encoding": {"x": {"field": "x", "type": "quantitative", "axis": null}, "y": {"field": "y", "type": "quantitative"}}},
   {"data": {"name": "curves"}, "transform": [{"filter": "datum.panel === 'rnjB' && datum.curve === 'fit3 pop2'"}],
    "mark": {"type": "line", "color": "#0072BD", "strokeWidth": 2.5, "strokeDash": [2, 3], "interpolate": "monotone", "clip": true},
    "encoding": {"x": {"field": "x", "type": "quantitative", "axis": null}, "y": {"field": "y", "type": "quantitative"}}},
   {"data": {"name": "curves"}, "transform": [{"filter": "datum.panel === 'rnjB' && datum.curve === 'fit3 pop1'"}],
    "mark": {"type": "line", "color": "#0072BD", "strokeWidth": 2.5, "interpolate": "monotone", "clip": true},
    "encoding": {"x": {"field": "x", "type": "quantitative", "axis": null}, "y": {"field": "y", "type": "quantitative"}}},
   {"data": {"name": "curves"}, "transform": [{"filter": "datum.panel === 'rnjB' && datum.curve === 'fit3 total'"}],
    "mark": {"type": "line", "color": "#0072BD", "strokeWidth": 5, "interpolate": "monotone", "clip": true},
    "encoding": {"x": {"field": "x", "type": "quantitative", "axis": null}, "y": {"field": "y", "type": "quantitative"}}},
   {"data": {"values": [{}]},
    "mark": {"type": "text", "text": "RNaseY-mV Δ", "fontSize": 23, "fontWeight": "bold", "align": "left", "baseline": "alphabetic", "color": "#262626"},
    "encoding": {"x": {"datum": 0.1521, "type": "quantitative", "axis": null}, "y": {"datum": 0.0862, "type": "quantitative"}}},
   {"data": {"values": [{}]},
    "mark": {"type": "text", "text": "rnjB", "fontSize": 23, "fontWeight": "bold", "fontStyle": "italic", "align": "left", "baseline": "alphabetic", "color": "#262626"},
    "encoding": {"x": {"datum": 0.2745, "type": "quantitative", "axis": null}, "y": {"datum": 0.0862, "type": "quantitative"}}},
   {"data": {"values": [{}]},
    "mark": {"type": "text", "text": "(N= 5456)", "fontSize": 24, "align": "left", "baseline": "alphabetic", "color": "#555555"},
    "encoding": {"x": {"datum": 0.319, "type": "quantitative", "axis": {"orient": "top", "values": [0,0.1,0.2,0.3,0.4,0.5], "labels": false, "domain": false, "title": null}}, "y": {"datum": 0.0862, "type": "quantitative"}}}
  ],
  "resolve": {"axis": {"x": "independent"}}
 },
 {
  "bounds": "flush",
  "spacing": 20,
  "hconcat": [
   {"width": 61, "height": 90, "data": {"values": [{}]}, "mark": {"type": "point", "opacity": 0}, "encoding": {}, "view": {"stroke": null}},
   {"width": 522, "height": 90, "view": {"stroke": "#999999"},
    "layer": [
     {"data": {"name": "legendSeries"},
      "mark": {"type": "point", "shape": "M-1,-0.3H1V0.3H-1Z", "size": 1089, "filled": true, "opacity": 1, "stroke": "#333333", "strokeWidth": 1},
      "encoding": {
       "x": {"datum": "left", "type": "nominal", "scale": {"type": "point", "domain": ["left", "right"], "range": [30.5, 310.5], "padding": 0}, "axis": null},
       "y": {"field": "series", "type": "nominal", "scale": {"type": "point", "domain": ["WT", "pfkA", "rnjB"], "range": [15, 69], "padding": 0}, "axis": null},
       "fill": {"field": "series", "type": "nominal", "scale": {"domain": ["WT", "pfkA", "rnjB"], "range": ["#729fcf", "#f28a4b", "#a6a6a6"]}, "legend": null}
      }},
     {"data": {"name": "legendSeries"},
      "mark": {"type": "text", "align": "left", "baseline": "middle", "dx": 28.5, "fontSize": 17, "color": "#262626"},
      "encoding": {
       "x": {"datum": "left", "type": "nominal", "scale": {"type": "point", "domain": ["left", "right"], "range": [30.5, 310.5], "padding": 0}, "axis": null},
       "y": {"field": "series", "type": "nominal", "scale": {"type": "point", "domain": ["WT", "pfkA", "rnjB"], "range": [15, 69], "padding": 0}, "axis": null},
       "text": {"field": "label"}
      }},
     {"data": {"name": "legendSeries"}, "transform": [{"filter": "datum.gene === 'pfkA'"}],
      "mark": {"type": "text", "align": "left", "baseline": "middle", "dx": 138, "fontSize": 17, "fontStyle": "italic", "color": "#262626"},
      "encoding": {
       "x": {"datum": "left", "type": "nominal", "scale": {"type": "point", "domain": ["left", "right"], "range": [30.5, 310.5], "padding": 0}, "axis": null},
       "y": {"field": "series", "type": "nominal", "scale": {"type": "point", "domain": ["WT", "pfkA", "rnjB"], "range": [15, 69], "padding": 0}, "axis": null},
       "text": {"field": "gene"}
      }},
     {"data": {"name": "legendSeries"}, "transform": [{"filter": "datum.gene === 'rnjB'"}],
      "mark": {"type": "text", "align": "left", "baseline": "middle", "dx": 135, "fontSize": 17, "fontStyle": "italic", "color": "#262626"},
      "encoding": {
       "x": {"datum": "left", "type": "nominal", "scale": {"type": "point", "domain": ["left", "right"], "range": [30.5, 310.5], "padding": 0}, "axis": null},
       "y": {"field": "series", "type": "nominal", "scale": {"type": "point", "domain": ["WT", "pfkA", "rnjB"], "range": [15, 69], "padding": 0}, "axis": null},
       "text": {"field": "gene"}
      }},
     {"data": {"name": "legendFits"},
      "mark": {"type": "point", "shape": "M-1,0H1", "size": 1089, "filled": false, "opacity": 1, "strokeWidth": 2},
      "encoding": {
       "x": {"datum": "right", "type": "nominal", "scale": {"type": "point", "domain": ["left", "right"], "range": [30.5, 310.5], "padding": 0}, "axis": null},
       "y": {"field": "fit", "type": "nominal", "scale": {"type": "point", "domain": ["fit 2 populations", "fit 3 populations"], "range": [32, 57], "padding": 0}, "axis": null},
       "stroke": {"field": "fit", "type": "nominal", "scale": {"domain": ["fit 2 populations", "fit 3 populations"], "range": ["#D95319", "#0072BD"]}, "legend": null}
      }},
     {"data": {"name": "legendFits"},
      "mark": {"type": "text", "align": "left", "baseline": "middle", "dx": 27, "fontSize": 17, "color": "#262626"},
      "encoding": {
       "x": {"datum": "right", "type": "nominal", "scale": {"type": "point", "domain": ["left", "right"], "range": [30.5, 310.5], "padding": 0}, "axis": null},
       "y": {"field": "fit", "type": "nominal", "scale": {"type": "point", "domain": ["fit 2 populations", "fit 3 populations"], "range": [32, 57], "padding": 0}, "axis": null},
       "text": {"field": "fit"}
      }}
    ],
    "resolve": {"scale": {"y": "independent"}}
   }
  ]
 }
]
}
